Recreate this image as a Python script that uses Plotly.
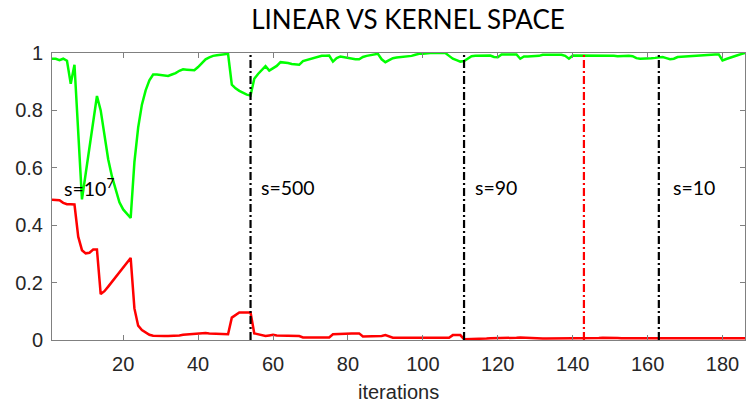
import plotly.graph_objects as go

# Iteration index (1..186)
iterations = list(range(1, 187))

# Kernel-space score per iteration
green_vals = [
    0.980, 0.980, 0.975, 0.980, 0.973, 0.893, 0.959, 0.700, 0.490, 0.580,
    0.670, 0.760, 0.850, 0.800, 0.720, 0.630, 0.570, 0.520, 0.480, 0.455,
    0.440, 0.425, 0.620, 0.740, 0.820, 0.870, 0.905, 0.925, 0.925, 0.923,
    0.922, 0.920, 0.925, 0.930, 0.938, 0.943, 0.942, 0.940, 0.940, 0.951,
    0.965, 0.978, 0.985, 0.990, 0.992, 0.994, 0.996, 0.997, 0.890, 0.877,
    0.868, 0.860, 0.855, 0.852, 0.910, 0.927, 0.940, 0.954, 0.939, 0.948,
    0.955, 0.968, 0.967, 0.965, 0.962, 0.960, 0.959, 0.972, 0.976, 0.980,
    0.984, 0.987, 0.990, 0.990, 0.991, 0.970, 0.982, 0.988, 0.985, 0.982,
    0.980, 0.978, 0.978, 0.986, 0.990, 0.992, 0.994, 0.997, 0.978, 0.968,
    0.975, 0.982, 0.984, 0.985, 0.987, 0.989, 0.990, 0.994, 0.997, 0.997,
    0.999, 1.000, 1.000, 1.000, 1.000, 1.000, 0.990, 0.980, 0.975, 0.970,
    0.972, 0.982, 0.989, 0.990, 0.990, 0.990, 0.990, 0.991, 0.986, 0.985,
    0.995, 0.995, 0.995, 0.995, 0.995, 0.980, 0.988, 0.988, 0.988, 0.988,
    0.990, 0.994, 0.994, 0.994, 0.994, 0.994, 0.994, 0.990, 0.980, 0.991,
    0.991, 0.992, 0.991, 0.990, 0.990, 0.990, 0.990, 0.990, 0.990, 0.990,
    0.990, 0.989, 0.990, 0.990, 0.990, 0.989, 0.982, 0.980, 0.980, 0.981,
    0.982, 0.983, 0.985, 0.986, 0.982, 0.978, 0.980, 0.986, 0.987, 0.988,
    0.990, 0.990, 0.991, 0.992, 0.993, 0.994, 0.995, 0.995, 0.995, 0.974,
    0.979, 0.984, 0.988, 0.992, 0.996, 1.000,
]

# Linear-space score per iteration
red_vals = [
    0.489, 0.489, 0.487, 0.478, 0.473, 0.473, 0.472, 0.360, 0.313, 0.302,
    0.304, 0.315, 0.315, 0.160, 0.170, 0.186, 0.203, 0.220, 0.237, 0.255,
    0.272, 0.286, 0.110, 0.050, 0.035, 0.025, 0.018, 0.015, 0.014, 0.014,
    0.014, 0.014, 0.014, 0.015, 0.016, 0.018, 0.019, 0.020, 0.022, 0.024,
    0.025, 0.024, 0.023, 0.022, 0.021, 0.020, 0.020, 0.020, 0.078, 0.088,
    0.096, 0.096, 0.096, 0.096, 0.023, 0.020, 0.016, 0.014, 0.016, 0.018,
    0.016, 0.016, 0.015, 0.015, 0.015, 0.014, 0.014, 0.009, 0.009, 0.009,
    0.009, 0.009, 0.009, 0.009, 0.009, 0.020, 0.021, 0.022, 0.023, 0.023,
    0.023, 0.023, 0.023, 0.012, 0.012, 0.012, 0.012, 0.012, 0.014, 0.017,
    0.012, 0.008, 0.008, 0.008, 0.008, 0.008, 0.008, 0.008, 0.008, 0.008,
    0.008, 0.008, 0.008, 0.008, 0.008, 0.008, 0.008, 0.017, 0.017, 0.017,
    0.003, 0.003, 0.004, 0.004, 0.005, 0.005, 0.005, 0.006, 0.006, 0.006,
    0.007, 0.007, 0.008, 0.008, 0.008, 0.009, 0.008, 0.007, 0.006, 0.006,
    0.005, 0.005, 0.005, 0.005, 0.005, 0.005, 0.006, 0.006, 0.006, 0.006,
    0.006, 0.006, 0.006, 0.006, 0.006, 0.007, 0.007, 0.008, 0.008, 0.009,
    0.008, 0.007, 0.006, 0.006, 0.006, 0.006, 0.006, 0.006, 0.006, 0.006,
    0.006, 0.006, 0.006, 0.006, 0.006, 0.006, 0.006, 0.006, 0.006, 0.006,
    0.006, 0.006, 0.006, 0.006, 0.006, 0.006, 0.006, 0.006, 0.006, 0.006,
    0.006, 0.006, 0.006, 0.006, 0.006, 0.006,
]

# Iterations where the kernel width s changes, with labels
switch_iters = [54, 111, 163]
switch_colors = ["black", "black", "black"]
marker_iter = 143
s_labels = ["s=10<sup>7</sup>", "s=500", "s=90", "s=10"]
s_label_iters = [3.7, 56.2, 113.3, 166.3]
s_label_level = 0.53

x_ticks = [20, 40, 60, 80, 100, 120, 140, 160, 180]
y_ticks = [0, 0.2, 0.4, 0.6, 0.8, 1]
y_ticklabels = ["0", "0.2", "0.4", "0.6", "0.8", "1"]

fig = go.Figure()
fig.add_trace(go.Scatter(x=iterations, y=green_vals, mode="lines",
                         line=dict(color="#00ff00", width=2.5), showlegend=False))
fig.add_trace(go.Scatter(x=iterations, y=red_vals, mode="lines",
                         line=dict(color="#ff0000", width=2.5), showlegend=False))

dash = "8px,3px,2px,3px"
for xi, c in zip(switch_iters, switch_colors):
    fig.add_shape(type="line", xref="x", yref="y", x0=xi, x1=xi, y0=0, y1=1,
                  line=dict(color=c, width=2.2, dash=dash))
fig.add_shape(type="line", xref="x", yref="y", x0=marker_iter, x1=marker_iter,
              y0=0, y1=1, line=dict(color="#ff0000", width=2.2, dash=dash))

for lbl, xi in zip(s_labels, s_label_iters):
    fig.add_annotation(x=xi, y=s_label_level, xref="x", yref="y", text=lbl,
                       showarrow=False, xanchor="left", yanchor="middle",
                       font=dict(family="Lato", size=19.5, color="black"))

fig.add_annotation(x=0.5, y=-0.18, xref="paper", yref="paper", text="iterations",
                   showarrow=False, xanchor="center", yanchor="middle",
                   font=dict(family="Liberation Sans", size=20, color="#262626"))

axis_common = dict(showline=True, linecolor="#808080", linewidth=1, mirror="allticks",
                   ticks="inside", ticklen=5, tickcolor="#808080", showgrid=False,
                   zeroline=False,
                   tickfont=dict(family="Liberation Sans", size=20, color="#262626"))

fig.update_xaxes(range=[1, 186], tickvals=x_ticks, ticklabelstandoff=6, **axis_common)
fig.update_yaxes(range=[0, 1], tickvals=y_ticks, ticktext=y_ticklabels,
                 ticklabelstandoff=4, **axis_common)

fig.update_layout(
    width=746, height=402,
    margin=dict(l=52, r=1, t=53, b=62),
    paper_bgcolor="white", plot_bgcolor="white",
    title=dict(text="LINEAR VS KERNEL SPACE", x=0.547, xanchor="center",
               y=0.95, yanchor="middle",
               font=dict(family="Lato", size=26, color="black")),
)

fig.write_html("out.html")
